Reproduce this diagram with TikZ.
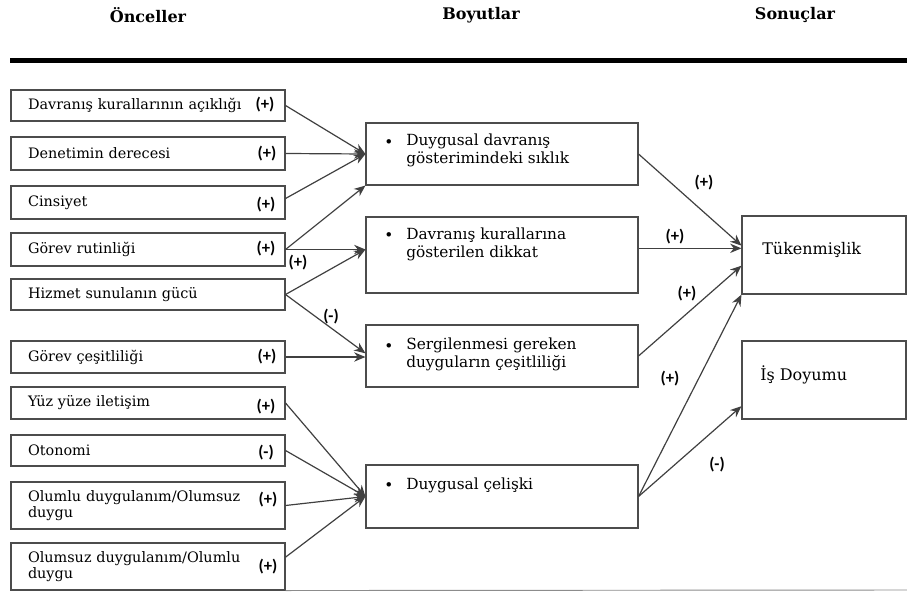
\documentclass[tikz,border=0pt]{standalone}
\usepackage{fontspec}
\setmainfont{DejaVu Serif}
\newfontfamily\signfont{Carlito}
\usetikzlibrary{arrows.meta}

\begin{document}
\begin{tikzpicture}[x=0.75pt, y=-0.75pt,
  lbox/.style={draw=black!70, line width=0.8pt, minimum width=205.5pt, text width=180pt,
    inner xsep=12.75pt, inner ysep=0pt, align=left, font=\fontsize{10.8}{12}\selectfont},
  mbox/.style={draw=black!70, line width=0.8pt, minimum width=204pt, inner sep=0pt},
  mtext/.style={anchor=north west, inner sep=0pt, align=left, font=\fontsize{11.5}{13.5}\selectfont},
  bull/.style={inner sep=0pt, font=\fontsize{11.5}{13.5}\selectfont},
  rbox/.style={draw=black!70, line width=0.8pt, minimum width=123pt, minimum height=58.5pt, inner sep=0pt},
  rtext/.style={anchor=west, inner sep=0pt, font=\fontsize{12}{14}\selectfont},
  head/.style={font=\bfseries\fontsize{12}{14}\selectfont},
  sign/.style={font=\signfont\bfseries\fontsize{12.5}{14}\selectfont, inner sep=0pt},
  link/.style={draw=black!75, line width=0.9pt, -{Stealth[length=8.5pt, width=7pt]}}]
  \useasboundingbox (0,0) rectangle (907,592);

  % column headings
  \node[head] (h1) at (148,15) {Önceller};
  \node[head] (h2) at (481,15) {Boyutlar};
  \node[head] (h3) at (795,15) {Sonuçlar};
  \draw[line width=3.75pt] (10,61) -- (907,61);

  % antecedents
  \node[lbox, minimum height=23.25pt] (a1) at (148,105.5) {Davranış kurallarının açıklığı};
  \node[lbox, minimum height=24.75pt] (a2) at (148,153.5) {Denetimin derecesi};
  \node[lbox, minimum height=24.75pt] (a3) at (148,202.5) {Cinsiyet};
  \node[lbox, minimum height=24.75pt] (a4) at (148,249.5) {Görev rutinliği};
  \node[lbox, minimum height=23.25pt] (a5) at (148,294.5) {Hizmet sunulanın gücü};
  \node[lbox, minimum height=24pt] (a6) at (148,357) {Görev çeşitliliği};
  \node[lbox, minimum height=24pt] (a7) at (148,403) {Yüz yüze iletişim};
  \node[lbox, minimum height=23.25pt] (a8) at (148,450.5) {Otonomi};
  \node[lbox, minimum height=35.25pt] (a9) at (148,505.5) {Olumlu duygulanım/Olumsuz\\duygu};
  \node[lbox, minimum height=35.25pt] (a10) at (148,566.5) {Olumsuz duygulanım/Olumlu\\duygu};
  \draw[black!45, line width=0.7pt] (a10.south east) -- (907,590);

  \node[sign] (s1) at (265,105) {(+)};
  \node[sign] (s2) at (267,154) {(+)};
  \node[sign] (s3) at (266,205) {(+)};
  \node[sign] (s4) at (266,249) {(+)};
  \node[sign] (s6) at (267,357) {(+)};
  \node[sign] (s7) at (266,407) {(+)};
  \node[sign] (s8) at (266,453) {(-)};
  \node[sign] (s9) at (268,500) {(+)};
  \node[sign] (s10) at (268,567) {(+)};

  % dimensions
  \node[mbox, minimum height=46.5pt] (m1) at (502,154) {};
  \node[mbox, minimum height=57pt] (m2) at (502,255) {};
  \node[mbox, minimum height=46.5pt] (m3) at (502,356) {};
  \node[mbox, minimum height=47.25pt] (m4) at (502,496.5) {};
  \node[mtext] (m1t) at (406,134) {Duygusal davranış\\gösterimindeki sıklık};
  \node[mtext] (m2t) at (406,228) {Davranış kurallarına\\gösterilen dikkat};
  \node[mtext] (m3t) at (406,338) {Sergilenmesi gereken\\duyguların çeşitliliği};
  \node[mtext] (m4t) at (406,478) {Duygusal çelişki};
  \node[bull] (m1b) at (389,144) {\textbullet};
  \node[bull] (m2b) at (389,237) {\textbullet};
  \node[bull] (m3b) at (389,348) {\textbullet};
  \node[bull] (m4b) at (389,487) {\textbullet};

  % outcomes
  \node[rbox] (r1) at (824,255) {};
  \node[rbox] (r2) at (824,380) {};
  \node[rtext] (r1t) at (762,250) {Tükenmişlik};
  \node[rtext] (r2t) at (760,375) {İş Doyumu};

  % antecedents -> dimensions
  \draw[link] (a1.east) -- (m1.west);
  \draw[link] (a2.east) -- (m1.west);
  \draw[link] ([yshift=3pt]a3.east) -- (m1.west);
  \draw[link] (a4.east) -- (m1.south west);
  \draw[link] (a4.east) -- (a4.east -| m2.west);
  \draw[link] (a5.east) -- (a4.east -| m2.west);
  \draw[link] (a5.east) -- ([yshift=2pt]m3.west);
  \draw[link] (a6.east) -- (a6.east -| m3.west);
  \draw[link] (a7.east) -- (m4.west);
  \draw[link] (a8.east) -- (m4.west);
  \draw[link] (a9.east) -- (m4.west);
  \draw[link] ([yshift=7pt]a10.east) -- (m4.west);
  \node[sign] (s5a) at (298,263) {(+)};
  \node[sign] (s5b) at (331,317) {(-)};

  % dimensions -> outcomes
  \draw[link] (m1.east) -- ([yshift=7pt]r1.west);
  \draw[link] ([yshift=5pt]m2.east) -- ([yshift=5pt]m2.east -| r1.west);
  \draw[link] (m3.east) -- ([yshift=-8pt]r1.west);
  \draw[link] (m4.east) -- (r1.south west);
  \draw[link] (m4.east) -- ([yshift=10pt]r2.south west);
  \node[sign] (c1) at (704,183) {(+)};
  \node[sign] (c2) at (675,237) {(+)};
  \node[sign] (c3) at (687,294) {(+)};
  \node[sign] (c4) at (670,379) {(+)};
  \node[sign] (c5) at (717,465) {(-)};
\end{tikzpicture}
\end{document}
